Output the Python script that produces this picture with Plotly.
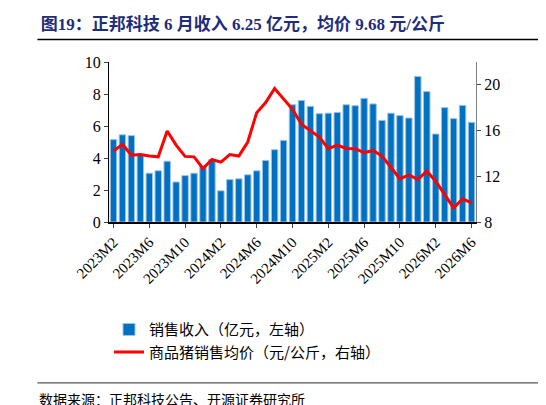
import plotly.graph_objects as go

months = [f"{y}M{m}" for y in (2023, 2024, 2025, 2026) for m in range(1, 13)][1:42]
revenue = [5.15, 5.45, 5.4, 4.2, 3.05, 3.2, 3.8, 2.5, 2.9, 3.05, 3.5, 3.9, 1.95, 2.65, 2.7, 2.95, 3.2, 3.85,
           4.52, 5.1, 7.33, 7.6, 7.23, 6.77, 6.8, 6.85, 7.33, 7.27, 7.73, 7.38, 6.35, 6.8, 6.65, 6.5,
           9.1, 8.15, 5.5, 7.15, 6.46, 7.29, 6.23]
price = [14.2, 14.8, 13.85, 13.9, 13.77, 13.7, 15.96, 14.73, 13.74, 13.7, 12.68, 13.47, 13.24, 13.9, 13.77,
         15.0, 17.57, 18.45, 19.68, 18.74, 17.86, 16.55, 16.02, 15.43, 14.41, 14.73, 14.44, 14.41, 14.06,
         14.26, 13.77, 12.74, 11.78, 12.13, 11.72, 12.45, 11.57, 10.4, 9.23, 10.02, 9.67]
tick_labels = months[::4]

serif = "Liberation Serif, Noto Sans CJK SC"
fig = go.Figure()
fig.add_trace(go.Bar(x=months, y=revenue, name="销售收入（亿元，左轴）", marker_color="#0070C0",
                     marker_line=dict(color="#9DC3E6", width=1), width=0.72))
fig.add_trace(go.Scatter(x=months, y=price, name="商品猪销售均价（元/公斤，右轴）", yaxis="y2",
                         mode="lines", line=dict(color="#FF0000", width=3)))
fig.update_layout(
    width=546, height=405, margin=dict(l=101, r=78, t=54, b=191, autoexpand=False),
    plot_bgcolor="white", paper_bgcolor="white", bargap=0.28,
    font=dict(family=serif, size=16, color="black"),
    title=dict(text="<b>图19：正邦科技 6 月收入 6.25 亿元，均价 9.68 元/公斤</b>", x=0.06, xanchor="left",
               y=0.975, yanchor="top", font=dict(size=17, color="#1F2D7A", family=serif)),
    xaxis=dict(tickmode="array", tickvals=tick_labels, ticktext=tick_labels, tickangle=-45,
               showline=True, linecolor="black", linewidth=1.5, ticks="outside", ticklen=4,
               tickfont=dict(size=15), showgrid=False, automargin=False),
    yaxis=dict(range=[0, 10], dtick=2, showline=True, linecolor="black", ticks="outside", ticklen=4,
               showgrid=False, zeroline=False, tickfont=dict(size=16), automargin=False),
    yaxis2=dict(range=[8, 22], tickvals=[8, 12, 16, 20], overlaying="y", side="right", showline=True,
                linecolor="#808080", ticks="outside", ticklen=4, showgrid=False, tickfont=dict(size=16),
                automargin=False),
    legend=dict(x=0.0, y=-0.57, xanchor="left", yanchor="top", tracegroupgap=8,
                font=dict(size=15, family="Noto Sans CJK SC")),
    shapes=[dict(type="line", xref="paper", yref="paper", x0=-0.195, x1=1.21, y0=1.14, y1=1.14,
                 line=dict(color="black", width=1.5)),
            dict(type="line", xref="paper", yref="paper", x0=-0.195, x1=1.21, y0=-1.005, y1=-1.005,
                 line=dict(color="#555555", width=1.2))],
    annotations=[dict(text="数据来源：正邦科技公告、开源证券研究所", xref="paper", yref="paper", x=-0.195,
                      y=-1.03, xanchor="left", yanchor="top", showarrow=False,
                      font=dict(size=14, family="Noto Sans CJK SC"))],
)
fig.write_html("out.html")
